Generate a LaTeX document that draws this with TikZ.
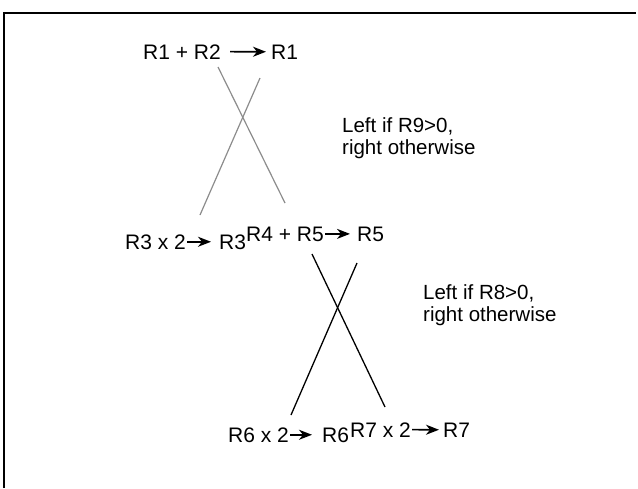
\documentclass[tikz,border=0pt]{standalone}
\usepackage{fontspec}
\setmainfont{Liberation Sans}
\usetikzlibrary{arrows.meta}
\begin{document}
\begin{tikzpicture}[x=1pt,y=-1pt,
  txt/.style={anchor=base west,inner sep=0pt,font=\fontsize{21}{23}\selectfont},
  note/.style={anchor=north west,inner sep=0pt,align=left,font=\fontsize{20.5}{22}\selectfont},
  arr/.style={-{Stealth[length=13pt,width=10pt,inset=4pt]},line width=1.6pt},
  frameline/.style={line width=1.3pt},
  grayline/.style={draw=black!45,line width=1.2pt},
  blackline/.style={draw=black,line width=1.3pt}]
\useasboundingbox (0,0) rectangle (638,488);
% frame
\draw[frameline] (4,488) -- (4,13) -- (636,13);
% top row
\node[txt] (t1) at (143,59) {R1 + R2};
\node[txt] (t2) at (271,59) {R1};
\draw[arr,shorten <=9pt,shorten >=5pt] (t1.east) -- (t2.west);
% middle row
\node[txt,anchor=base east] (m1) at (186,249) {R3 x 2};
\node[txt] (m2) at (219,249) {R3};
\node[txt] (m3) at (246,241) {R4 + R5};
\node[txt] (m4) at (357,241) {R5};
\draw[arr,shorten <=1pt,shorten >=8pt] (m1.east) -- (m2.west);
\draw[arr,shorten <=1pt,shorten >=7pt] (m3.east) -- (m4.west);
% bottom row
\node[txt] (b1) at (228,442) {R6 x 2};
\node[txt] (b2) at (322,442) {R6};
\node[txt] (b3) at (350,437) {R7 x 2};
\node[txt] (b4) at (443,437) {R7};
\draw[arr,shorten <=1pt,shorten >=10pt] (b1.east) -- (b2.west);
\draw[arr,shorten <=1pt,shorten >=4pt] (b3.east) -- (b4.west);
% crosses
\draw[grayline] (218,67) -- (285,203);
\draw[grayline] (260,78) -- (200,215);
\draw[blackline] (312,254) -- (385,407);
\draw[blackline] (357,263) -- (291,415);
% notes
\node[note] (n1) at (342,117) {Left if R9>0,\\right otherwise};
\node[note] (n2) at (423,284) {Left if R8>0,\\right otherwise};
\end{tikzpicture}
\end{document}
